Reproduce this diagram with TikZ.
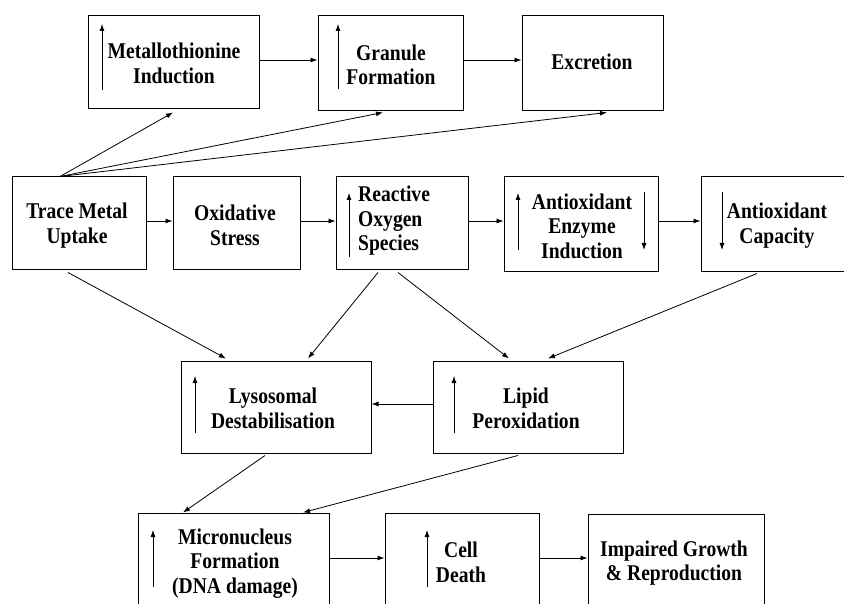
\documentclass[tikz,border=0pt]{standalone}
\usepackage{fontspec}
\setmainfont{Liberation Serif}[FakeStretch=0.87]
\usetikzlibrary{arrows.meta}
\begin{document}
\begin{tikzpicture}[x=1pt,y=-1pt,
  box/.style={draw=black, line width=1pt, inner sep=0pt},
  lbl/.style={font=\bfseries\fontsize{22.5}{24.5}\selectfont, align=center, inner sep=0pt},
  arr/.style={line width=0.8pt, -{Latex[length=7pt,width=5pt]}},
  link/.style={line width=0.8pt, -{Latex[length=7pt,width=5pt]}},
  updown/.style={line width=0.8pt, -{Latex[length=7pt,width=5pt]}}]
\useasboundingbox (0,0) rectangle (844,604);
\clip (0,0) rectangle (844,604);
\fill[white] (0,0) rectangle (844,604);

% ---- top row ----
\node[box, minimum width=171pt, minimum height=93pt] (mt) at (173.5,62.5) {};
\node[box, minimum width=145pt, minimum height=95pt] (gf) at (390.5,63.5) {};
\node[box, minimum width=141pt, minimum height=95pt] (ex) at (592.5,63.5) {};
\node[lbl] (mtT) at (174,63.5) {Metallothionine\\Induction};
\node[lbl] (gfT) at (391,65) {Granule\\Formation};
\node[lbl] (exT) at (592,62) {Excretion};

% ---- middle row ----
\node[box, minimum width=134pt, minimum height=93pt] (tm) at (79,223.5) {};
\node[box, minimum width=127pt, minimum height=93pt] (os) at (236.5,223.5) {};
\node[box, minimum width=132pt, minimum height=93pt] (ros) at (402,223.5) {};
\node[box, minimum width=154pt, minimum height=95pt] (aei) at (581,224.5) {};
\node[box, minimum width=149pt, minimum height=95pt] (ac) at (775.5,224.5) {};
\node[lbl] (tmT) at (77,225.5) {Trace Metal\\Uptake};
\node[lbl] (osT) at (235,225.5) {Oxidative\\Stress};
\node[lbl, align=left, anchor=west] (rosT) at (358,221) {Reactive\\Oxygen\\Species};
\node[lbl] (aeiT) at (582,226) {Antioxidant\\Enzyme\\Induction};
\node[lbl] (acT) at (777,225.5) {Antioxidant\\Capacity};

% ---- lower row ----
\node[box, minimum width=190pt, minimum height=92pt] (ld) at (276,407) {};
\node[box, minimum width=190pt, minimum height=92pt] (lp) at (528,407) {};
\node[lbl] (ldT) at (273,408.5) {Lysosomal\\Destabilisation};
\node[lbl] (lpT) at (526,408.5) {Lipid\\Peroxidation};

% ---- bottom row ----
\node[box, minimum width=191pt, minimum height=107pt] (mn) at (233.5,566.5) {};
\node[box, minimum width=154pt, minimum height=107pt] (cd) at (462,566.5) {};
\node[box, minimum width=176pt, minimum height=106pt] (ig) at (676,567) {};
\node[lbl] (mnT) at (235,563.5) {Micronucleus\\Formation\\(DNA damage)};
\node[lbl] (cdT) at (461,562.5) {Cell\\Death};
\node[lbl] (igT) at (674,563) {Impaired Growth\\\& Reproduction};

% ---- increase / decrease markers inside boxes ----
\draw[updown] ([xshift=-71.5pt,yshift=-27.5pt]mt.center) -- ++(0,-66);
\draw[updown] ([xshift=-52.5pt,yshift=-25.5pt]gf.center) -- ++(0,-65);
\draw[updown] ([xshift=-53pt,yshift=-33.5pt]ros.center) -- ++(0,-64);
\draw[updown] ([xshift=-63pt,yshift=-25.5pt]aei.center) -- ++(0,-57);
\draw[updown] ([xshift=63pt,yshift=32.5pt]aei.center) -- ++(0,58);
\draw[updown] ([xshift=-53.5pt,yshift=32.5pt]ac.center) -- ++(0,58);
\draw[updown] ([xshift=-81pt,yshift=-26pt]ld.center) -- ++(0,-57);
\draw[updown] ([xshift=-74pt,yshift=-26pt]lp.center) -- ++(0,-57);
\draw[updown] ([xshift=-80.5pt,yshift=-20.5pt]mn.center) -- ++(0,-57);
\draw[updown] ([xshift=-35pt,yshift=-20.5pt]cd.center) -- ++(0,-57);

% ---- horizontal flow ----
\draw[arr] ([yshift=2.5pt]mt.east) -- ([yshift=3.5pt]gf.west);
\draw[arr] ([yshift=3.5pt]gf.east) -- ([yshift=3.5pt]ex.west);
\draw[arr] ([yshift=2.5pt]tm.east) -- ([yshift=2.5pt]os.west);
\draw[arr] ([yshift=2.5pt]os.east) -- ([yshift=2.5pt]ros.west);
\draw[arr] ([yshift=2.5pt]ros.east) -- ([yshift=3.5pt]aei.west);
\draw[arr] ([yshift=3.5pt]aei.east) -- ([yshift=3.5pt]ac.west);
\draw[arr] ([yshift=3pt]lp.west) -- ([yshift=3pt]ld.east);
\draw[arr] ([yshift=8.5pt]mn.east) -- ([yshift=8.5pt]cd.west);
\draw[arr] ([yshift=8.5pt]cd.east) -- ([yshift=9pt]ig.west);

% ---- fan from uptake to the top row ----
\coordinate (fan) at ([xshift=-19pt]tm.north);
\draw[link] (fan) -- ([xshift=-0.5pt,yshift=-3pt]mt.south);
\draw[link] (fan) -- ([xshift=-7.5pt,yshift=-1pt]gf.south);
\draw[link] (fan) -- ([xshift=14.5pt,yshift=-1pt]ex.south);

% ---- links to the lower rows ----
\draw[link] ([xshift=-11pt,yshift=-2pt]tm.south) -- ([xshift=-50pt,yshift=2pt]ld.north);
\draw[link] ([xshift=-24pt,yshift=-2pt]ros.south) -- ([xshift=32pt,yshift=2pt]ld.north);
\draw[link] ([xshift=-4pt,yshift=-2pt]ros.south) -- ([xshift=-19pt,yshift=2pt]lp.north);
\draw[link] ([xshift=-18.5pt,yshift=-1pt]ac.south) -- ([xshift=20pt,yshift=2pt]lp.north);
\draw[link] ([xshift=-11pt,yshift=-2pt]ld.south) -- ([xshift=-50.5pt]mn.north);
\draw[link] ([xshift=-10pt,yshift=-2pt]lp.south) -- ([xshift=69.5pt]mn.north);
\end{tikzpicture}
\end{document}
